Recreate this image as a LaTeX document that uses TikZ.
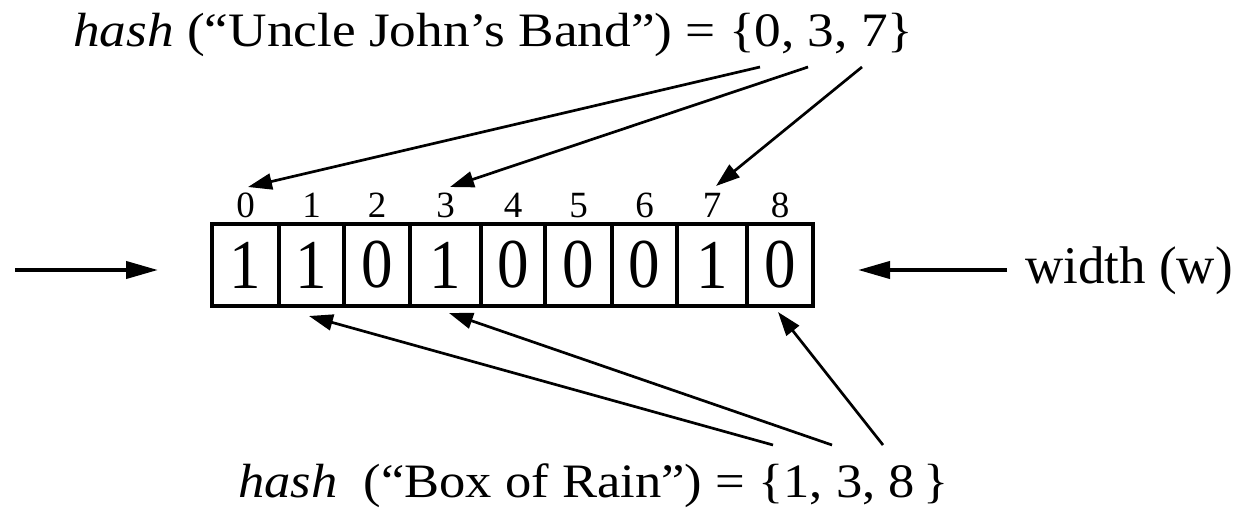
\documentclass[tikz,border=0pt]{standalone}
\usepackage{fontspec}
\setmainfont{Liberation Serif}
\usetikzlibrary{arrows.meta}
\begin{document}
\begin{tikzpicture}[x=1pt,y=-1pt,
  cell/.style={draw, line width=3.5pt, minimum height=82pt, inner sep=0pt,
    font=\fontsize{70}{70}\selectfont},
  idx/.style={inner sep=0pt, font=\fontsize{37}{37}\selectfont},
  conn/.style={line width=2.7pt, -{Triangle[length=24pt,width=16pt]}},
  bigarrow/.style={line width=4pt, -{Triangle[length=32pt,width=17pt]}},
  lbl/.style={anchor=base west, inner sep=0pt}]
\useasboundingbox (0,0) rectangle (1248,508);
\foreach \i/\l/\r/\v in {0/212/279/1, 1/279/344/1, 2/344/410/0, 3/410/481/1,
    4/481/545/0, 5/545/612/0, 6/612/677/0, 7/677/747/1, 8/747/813/0} {
  \node[cell, minimum width={(\r-\l)*1pt}] (c\i) at ({(\l+\r)/2},265) {\scalebox{0.9}[1]{\v}};
  \node[idx] (i\i) at ({(\l+\r)/2},205.5) {\i};
}
\node[lbl] (top) at (73,47) {\scalebox{1.11}[1]{\fontsize{48}{48}\selectfont\textit{hash} (``Uncle John's Band'') = \{0, 3, 7\}}};
\node[lbl] (bot) at (238,497) {\scalebox{1.095}[1]{\fontsize{48}{48}\selectfont\textit{hash}\ \ (``Box of Rain'') = \{1, 3, 8\,\}}};
\node[lbl] (wl) at (1025,283) {\fontsize{53}{53}\selectfont width (w)};
% arrow end points
\coordinate (s0) at (760,67);
\coordinate (s3) at (808,67);
\coordinate (s7) at (862,67);
\coordinate (t0) at (248,187);
\coordinate (t3) at (450,187);
\coordinate (t7) at (716,186);
\coordinate (b1) at (773,445);
\coordinate (b3) at (832,445);
\coordinate (b8) at (883,445);
\coordinate (u1) at (309,316);
\coordinate (u3) at (449,313);
\coordinate (u8) at (778,312);
\coordinate (la) at (15,270);
\coordinate (lt) at (158,270);
\coordinate (ra) at (1007,270);
\coordinate (rt) at (858,270);
\draw[conn] (s0) -- (t0);
\draw[conn] (s3) -- (t3);
\draw[conn] (s7) -- (t7);
\draw[conn] (b1) -- (u1);
\draw[conn] (b3) -- (u3);
\draw[conn] (b8) -- (u8);
\draw[bigarrow] (la) -- (lt);
\draw[bigarrow] (ra) -- (rt);
\end{tikzpicture}
\end{document}
